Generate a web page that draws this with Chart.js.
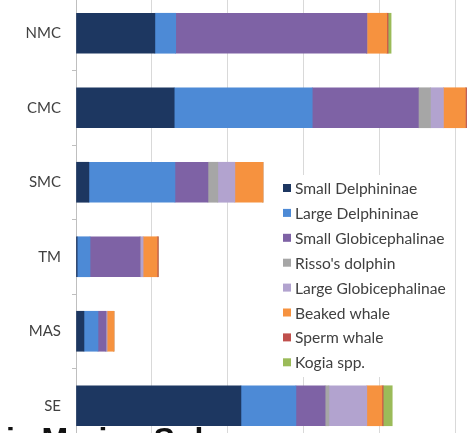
<!DOCTYPE html>
<html>
<head>
<meta charset="utf-8">
<script src="https://cdn.jsdelivr.net/npm/chart.js@4.4.1/dist/chart.umd.min.js"></script>
<style>
  html, body { margin: 0; padding: 0; background: #fff; overflow: hidden; }
  body { width: 471px; height: 433px; position: relative; }
  #wrap { position: absolute; left: 0; top: -20px; width: 560px; height: 480px; }
  .caption {
    position: absolute; left: 6px; top: 421px; margin: 0;
    font: bold 32px "Liberation Sans", Arial, sans-serif; color: #111; white-space: nowrap;
  }
</style>
</head>
<body>
<div id="wrap"><canvas id="chart" width="560" height="480"></canvas></div>
<p class="caption">ia Marine Sol</p>
<script>
const regions = ['NMC', 'CMC', 'SMC', 'TM', 'MAS', 'SE'];

const smallDelphininae = [20.8, 25.9, 3.4, 0.3, 2.1, 43.5];
const largeDelphininae = [5.5, 36.4, 22.7, 3.4, 3.7, 14.5];
const smallGlobicephalinae = [50.4, 28.0, 8.7, 13.2, 2.1, 7.7];
const rissosDolphin = [0, 3.2, 2.6, 0, 0, 1.0];
const largeGlobicephalinae = [0, 3.4, 4.5, 0.8, 0.3, 10.0];
const beakedWhale = [5.3, 5.8, 7.4, 3.7, 1.8, 4.0];
const spermWhale = [0.3, 0.3, 0, 0.3, 0, 0.3];
const kogiaSpp = [0.8, 0, 0, 0, 0, 2.4];

const gridStep = 20;
const axisMax = 120;

const series = [
  { label: 'Small Delphininae', data: smallDelphininae, color: '#1d3761' },
  { label: 'Large Delphininae', data: largeDelphininae, color: '#4d8ad6' },
  { label: 'Small Globicephalinae', data: smallGlobicephalinae, color: '#7e62a5' },
  { label: "Risso's dolphin", data: rissosDolphin, color: '#a6a6a6' },
  { label: 'Large Globicephalinae', data: largeGlobicephalinae, color: '#b2a3cf' },
  { label: 'Beaked whale', data: beakedWhale, color: '#f6923f' },
  { label: 'Sperm whale', data: spermWhale, color: '#c0504d' },
  { label: 'Kogia spp.', data: kogiaSpp, color: '#9bbb59' }
];

// legend box sits inside the plot, over the gridlines
const boxLegend = {
  id: 'boxLegend',
  afterDraw(chart) {
    const ctx = chart.ctx;
    const x0 = 278, y0 = 195;
    ctx.save();
    ctx.fillStyle = '#fff';
    ctx.fillRect(x0, y0, 174, 202);
    ctx.font = '15.6px Lato, "Open Sans", sans-serif';
    ctx.textBaseline = 'middle';
    chart.data.datasets.forEach((ds, i) => {
      const y = y0 + 13 + i * 24.9;
      ctx.fillStyle = ds.backgroundColor;
      ctx.fillRect(x0 + 5, y - 4, 8, 8);
      ctx.fillStyle = '#404040';
      ctx.fillText(ds.label, x0 + 17, y + 1);
    });
    ctx.restore();
  }
};

new Chart(document.getElementById('chart'), {
  type: 'bar',
  data: {
    labels: regions,
    datasets: series.map(s => ({
      label: s.label,
      data: s.data,
      backgroundColor: s.color,
      borderWidth: 0,
      barThickness: 40
    }))
  },
  options: {
    indexAxis: 'y',
    responsive: false,
    animation: false,
    layout: { padding: { top: 16, bottom: 17, left: 0, right: 29 } },
    plugins: { legend: { display: false }, tooltip: { enabled: false } },
    scales: {
      x: {
        stacked: true,
        min: 0,
        max: axisMax,
        ticks: { display: false, stepSize: gridStep },
        grid: { color: '#d9d9d9', drawTicks: false },
        border: { display: false },
        afterFit: s => { s.height = 0; }
      },
      y: {
        stacked: true,
        ticks: {
          padding: 11,
          color: '#404040',
          font: { family: 'Lato, "Open Sans", sans-serif', size: 15 }
        },
        grid: { drawOnChartArea: false, tickLength: 4, color: '#bfbfbf' },
        border: { display: true, color: '#bfbfbf' },
        afterFit: s => {
          s.width = 76;
          s.paddingTop = 0;
          s.paddingBottom = 0;
        }
      }
    }
  },
  plugins: [boxLegend]
});
</script>
</body>
</html>
